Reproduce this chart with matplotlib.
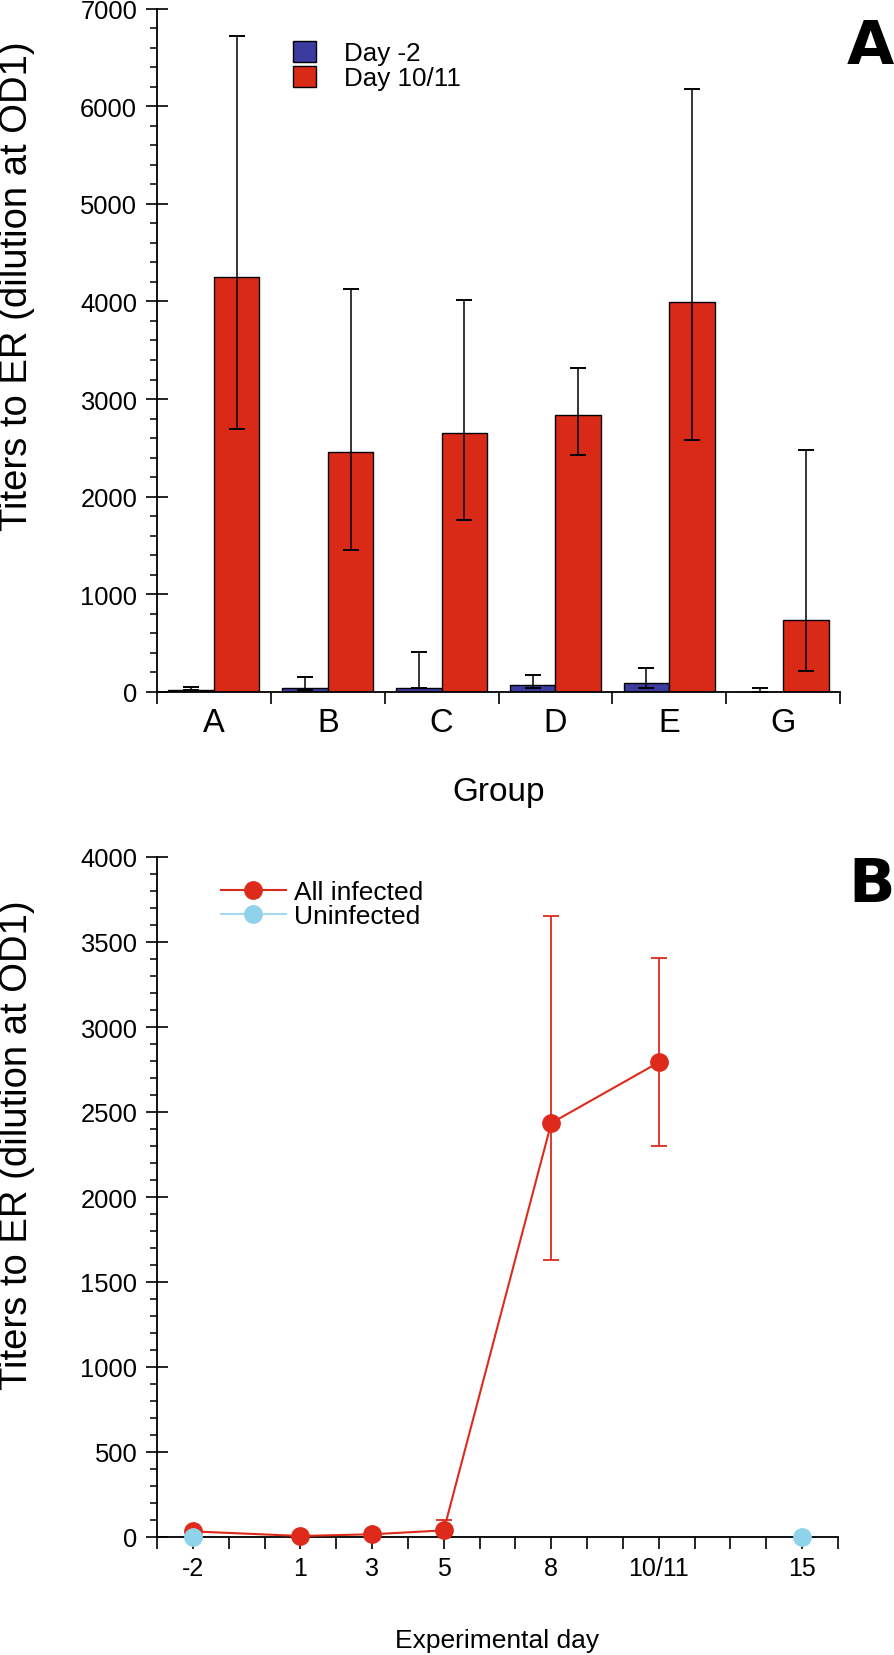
import matplotlib
matplotlib.use("Agg")
import matplotlib.pyplot as plt
from matplotlib.lines import Line2D
from matplotlib.patches import Patch
import numpy as np

plt.rcParams['font.family'] = ['Liberation Sans', 'DejaVu Sans']

# ---------------- Data: panel A ----------------
groups = ['A', 'B', 'C', 'D', 'E', 'G']
day_m2 = [17, 37, 37, 73, 96, 0]
day_m2_err_up = [38, 116, 369, 96, 150, 37]
day_m2_err_lo = [0, 13, 0, 36, 59, 0]
day_1011 = [4252, 2462, 2656, 2834, 3994, 735]
day_1011_err_up = [2468, 1670, 1360, 484, 2177, 1743]
day_1011_err_lo = [1559, 1010, 893, 410, 1415, 525]

# ---------------- Data: panel B ----------------
days_x = [-2, 1, 3, 5, 8, 11]
infected = [33, 6, 16, 39, 2435, 2792]
infected_err_up = [0, 0, 0, 59, 1218, 616]
infected_err_lo = [0, 0, 0, 0, 804, 494]
uninf_x = [-2, 15]
uninfected = [0, 0]
day_tick_pos = [-2, 1, 3, 5, 8, 11, 15]
day_tick_labels = ['-2', '1', '3', '5', '8', '10/11', '15']

BLUE = '#3c3ca0'
RED = '#d92a18'
LRED = '#dd2a1a'
LBLUE = '#8fd3ea'

W, H = 894, 1656
fig = plt.figure(figsize=(W / 100, H / 100), dpi=100)

def fx(px):
    return px / W

def fy(py):
    return 1 - py / H

ax1 = fig.add_axes([fx(157), fy(693), fx(840 - 157), (693 - 9.5) / H])
ax2 = fig.add_axes([fx(157), fy(1538), fx(838 - 157), (1538 - 858) / H])

# ---------------- Panel A ----------------
x = np.arange(len(groups))
bw = 0.4
ax1.bar(x - bw / 2, day_m2, width=bw, color=BLUE, edgecolor='black', linewidth=1.0, zorder=2)
ax1.bar(x + bw / 2, day_1011, width=bw, color=RED, edgecolor='black', linewidth=1.0, zorder=2)
ax1.errorbar(x - bw / 2, day_m2, yerr=[day_m2_err_lo, day_m2_err_up], fmt='none',
             ecolor='black', elinewidth=1.1, capsize=6, capthick=1.4, zorder=3)
ax1.errorbar(x + bw / 2, day_1011, yerr=[day_1011_err_lo, day_1011_err_up], fmt='none',
             ecolor='black', elinewidth=1.1, capsize=6, capthick=1.4, zorder=3)

ax1.set_xlim(-0.5, len(groups) - 0.5)
ax1.set_ylim(0, 7000)
ax1.set_xticks(np.arange(-0.5, len(groups), 1.0))
ax1.set_xticklabels([''] * (len(groups) + 1))
ax1.set_xticks(x, minor=True)
ax1.set_xticklabels(groups, minor=True, fontsize=23.5)
ax1.tick_params(axis='x', which='major', direction='out', length=8.4, width=1.2)
ax1.tick_params(axis='x', which='minor', length=0, pad=10.5)
ax1.set_yticks(np.arange(0, 7001, 1000))
ax1.set_yticks(np.arange(0, 7001, 200), minor=True)
ax1.tick_params(axis='y', which='major', direction='inout', length=16.5, width=1.2,
                labelsize=18.4, pad=6)
ax1.tick_params(axis='y', which='minor', direction='out', length=5, width=1.1)

# ---------------- Panel B ----------------
ax2.plot(uninf_x, uninfected, '-', color=LBLUE, lw=1.2, zorder=2)
ax2.errorbar(days_x, infected, yerr=[infected_err_lo, infected_err_up], fmt='-o',
             color=LRED, ecolor=LRED, lw=1.5, elinewidth=1.3, capsize=6, capthick=1.3,
             ms=12.5, mec=LRED, mfc=LRED, zorder=4, clip_on=False)
ax2.plot(uninf_x, uninfected, 'o', color=LBLUE, ms=12.5, zorder=5, clip_on=False)

ax2.set_xlim(-3, 16)
ax2.set_ylim(0, 4000)
ax2.set_xticks(np.arange(-3, 17, 1))
lab_map = dict(zip(day_tick_pos, day_tick_labels))
ax2.set_xticklabels([lab_map.get(v, '') for v in range(-3, 17)], fontsize=18)
ax2.tick_params(axis='x', which='major', direction='out', length=8.4, width=1.2, pad=5)
ax2.set_yticks(np.arange(0, 4001, 500))
ax2.set_yticks(np.arange(0, 4001, 100), minor=True)
ax2.tick_params(axis='y', which='major', direction='inout', length=16.5, width=1.2,
                labelsize=18.4, pad=6)
ax2.tick_params(axis='y', which='minor', direction='out', length=5, width=1.1)

for ax in (ax1, ax2):
    for s in ('top', 'right'):
        ax.spines[s].set_visible(False)
    for s in ('left', 'bottom'):
        ax.spines[s].set_linewidth(1.3)

# Axis labels
fig.text(fx(499), fy(793), 'Group', fontsize=24, ha='center', va='center')
fig.text(fx(497), fy(1641), 'Experimental day', fontsize=19, ha='center', va='center')
fig.text(fx(17), fy(286), 'Titers to ER (dilution at OD1)', fontsize=27.5,
         rotation=90, ha='center', va='center')
fig.text(fx(17), fy(1145), 'Titers to ER (dilution at OD1)', fontsize=27.5,
         rotation=90, ha='center', va='center')

# Panel letters
fig.text(fx(870), fy(48), 'A', fontsize=44, fontweight='black', family='DejaVu Sans',
         ha='center', va='center')
fig.text(fx(872), fy(885), 'B', fontsize=44, fontweight='black', family='DejaVu Sans',
         ha='center', va='center')

# Legends
hA = [Patch(facecolor=BLUE, edgecolor='black', linewidth=1.0),
      Patch(facecolor=RED, edgecolor='black', linewidth=1.0)]
fig.legend(hA, ['Day -2', 'Day 10/11'], loc='center left',
           bbox_to_anchor=(fx(293), fy(66.5)), frameon=False, fontsize=18.7,
           handlelength=0.9, handleheight=0.9, handletextpad=1.05,
           labelspacing=0.0, borderpad=0, borderaxespad=0)

hB = [Line2D([], [], color=LRED, lw=1.5, marker='o', ms=12.5),
      Line2D([], [], color=LBLUE, lw=1.2, marker='o', ms=12.5)]
fig.legend(hB, ['All infected', 'Uninfected'], loc='center left',
           bbox_to_anchor=(fx(221), fy(905.5)), frameon=False, fontsize=19,
           handlelength=2.45, handletextpad=0.3, labelspacing=0.0,
           borderpad=0, borderaxespad=0)

fig.savefig('out.png', dpi=100)
